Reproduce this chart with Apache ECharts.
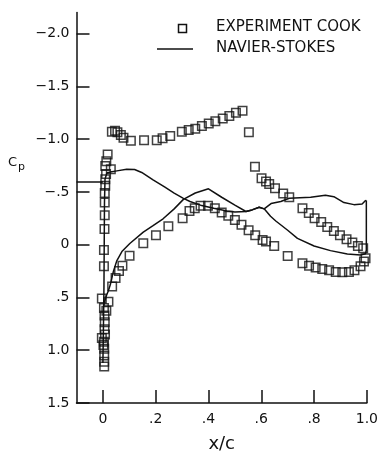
<!DOCTYPE html>
<html style="height: 100%">
<head>
    <meta charset="utf-8">
</head>
<body style="height: 100%; margin: 0; background: #fff">
<div id="container" style="width: 381px; height: 458px"></div>

<script type="text/javascript" src="https://cdn.jsdelivr.net/npm/echarts@6/dist/echarts.min.js"></script>
<script type="text/javascript">
    // experiment (Cook) - x/c and Cp, leading edge column, upper and lower surface
    const expLeX = [0.018, 0.013, 0.009, 0.030, 0.012, 0.009, 0.009, 0.007, 0.007, 0.007, 0.006, 0.004, 0.004, -0.004,
        0.004, 0.006, 0.007, 0.006, 0.008, -0.004, 0.004, 0.002, 0.005, 0.005, 0.005, 0.005];
    const expLeCp = [-0.855, -0.79, -0.745, -0.715, -0.67, -0.62, -0.56, -0.49, -0.40, -0.28, -0.15, 0.05, 0.205, 0.51,
        0.60, 0.67, 0.735, 0.80, 0.85, 0.885, 0.92, 0.95, 0.985, 1.05, 1.11, 1.155];
    const expUpX = [0.034, 0.046, 0.055, 0.068, 0.078, 0.106, 0.156, 0.204, 0.226, 0.255, 0.299, 0.325, 0.350, 0.375,
        0.401, 0.426, 0.454, 0.479, 0.504, 0.529, 0.553, 0.576, 0.601, 0.618, 0.630, 0.652, 0.683, 0.706, 0.756, 0.780,
        0.802, 0.827, 0.850, 0.875, 0.898, 0.923, 0.945, 0.966, 0.986];
    const expUpCp = [-1.07, -1.08, -1.065, -1.04, -1.015, -0.985, -0.99, -0.99, -1.01, -1.03, -1.07, -1.087, -1.10, -1.125,
        -1.15, -1.17, -1.196, -1.22, -1.25, -1.27, -1.065, -0.74, -0.63, -0.60, -0.575, -0.535, -0.486, -0.45, -0.345, -0.30,
        -0.25, -0.215, -0.168, -0.13, -0.09, -0.053, -0.02, 0.012, 0.034];
    const expLoX = [0.013, 0.021, 0.035, 0.048, 0.061, 0.074, 0.101, 0.153, 0.201, 0.248, 0.302, 0.328, 0.348, 0.370,
        0.398, 0.424, 0.450, 0.475, 0.500, 0.525, 0.552, 0.577, 0.605, 0.618, 0.649, 0.700, 0.756, 0.781, 0.806, 0.831,
        0.857, 0.882, 0.907, 0.932, 0.953, 0.976, 0.989, 0.995];
    const expLoCp = [0.625, 0.54, 0.395, 0.315, 0.248, 0.20, 0.105, -0.015, -0.09, -0.175, -0.25, -0.32, -0.345, -0.37,
        -0.37, -0.345, -0.305, -0.275, -0.235, -0.19, -0.137, -0.09, -0.044, -0.03, 0.012, 0.106, 0.175, 0.20, 0.215, 0.23,
        0.243, 0.258, 0.262, 0.258, 0.243, 0.205, 0.16, 0.128];

    // navier-stokes, two traces plus the short piece left of the nose
    const nsAX = [0.000, 0.002, 0.004, 0.005, 0.006, 0.008, 0.015, 0.028, 0.053, 0.090, 0.120, 0.147, 0.190, 0.235,
        0.270, 0.305, 0.330, 0.370, 0.420, 0.470, 0.500, 0.542, 0.565, 0.592, 0.611, 0.635, 0.655, 0.700, 0.737, 0.800,
        0.862, 0.926, 0.976, 0.995, 0.998, 0.998];
    const nsACp = [1.12, 0.80, 0.40, 0.00, -0.40, -0.62, -0.68, -0.69, -0.70, -0.715, -0.713, -0.685, -0.615, -0.545,
        -0.49, -0.44, -0.41, -0.375, -0.345, -0.32, -0.31, -0.315, -0.33, -0.355, -0.34, -0.27, -0.225, -0.137, -0.06, 0.012,
        0.056, 0.087, 0.097, 0.085, 0.05, -0.42];
    const nsBX = [0.006, 0.012, 0.020, 0.028, 0.040, 0.053, 0.072, 0.102, 0.153, 0.190, 0.228, 0.270, 0.305, 0.350,
        0.400, 0.450, 0.500, 0.542, 0.565, 0.592, 0.611, 0.637, 0.674, 0.706, 0.787, 0.843, 0.875, 0.913, 0.951, 0.982,
        0.994, 0.998];
    const nsBCp = [0.55, 0.49, 0.44, 0.38, 0.25, 0.15, 0.065, -0.012, -0.12, -0.18, -0.246, -0.34, -0.43, -0.49,
        -0.53, -0.45, -0.375, -0.315, -0.33, -0.355, -0.34, -0.39, -0.41, -0.44, -0.45, -0.47, -0.455, -0.40, -0.38, -0.386,
        -0.417, -0.42];
    const nsCX = [-0.1, 0.0];
    const nsCCp = [-0.595, -0.595];

    // axis ticks
    const xTicks = [0, 0.2, 0.4, 0.6, 0.8, 1.0];
    const xTickLabels = ['0', '.2', '.4', '.6', '.8', '1.0'];
    const yTicks = [-2.0, -1.5, -1.0, -0.5, 0, 0.5, 1.0, 1.5];
    const yTickLabels = ['\u22122.0', '\u22121.5', '\u22121.0', '\u2212.5', '0', '.5', '1.0', '1.5'];

    function pairs(xs, ys) {
        return xs.map(function (x, i) { return [x, ys[i]]; });
    }

    const ink = '#111';
    const font = 'DejaVu Sans';

    var dom = document.getElementById('container');
    var myChart = echarts.init(dom, null, {renderer: 'canvas'});
    var option;

    var lineStyle = {color: ink, width: 1.5};
    var lineSeries = function (data) {
        return {
            type: 'line',
            data: data,
            symbol: 'none',
            lineStyle: lineStyle,
            z: 2,
            animation: false
        };
    };

    option = {
        animation: false,
        grid: {left: 76.5, right: 13, top: 12.6, bottom: 49.5},
        xAxis: {
            type: 'value',
            min: -0.1,
            max: 1.0,
            name: 'x/c',
            nameLocation: 'middle',
            nameGap: 32,
            nameTextStyle: {fontFamily: font, fontSize: 18, color: ink},
            axisLine: {onZero: false, lineStyle: {color: ink, width: 1.5}},
            axisTick: {inside: true, length: 13, customValues: xTicks, lineStyle: {color: ink, width: 1.5}},
            axisLabel: {
                customValues: xTicks,
                margin: 9,
                fontFamily: font,
                fontSize: 14,
                color: ink,
                formatter: function (v) { return xTickLabels[xTicks.indexOf(+v.toFixed(1))]; }
            },
            splitLine: {show: false}
        },
        yAxis: {
            type: 'value',
            inverse: true,
            min: -2.2,
            max: 1.5,
            axisLine: {onZero: false, lineStyle: {color: ink, width: 1.5}},
            axisTick: {inside: true, length: 13, customValues: yTicks, lineStyle: {color: ink, width: 1.5}},
            axisLabel: {
                customValues: yTicks,
                margin: 7,
                fontFamily: font,
                fontSize: 14,
                color: ink,
                formatter: function (v) { return yTickLabels[yTicks.indexOf(+v.toFixed(1))]; }
            },
            splitLine: {show: false}
        },
        graphic: [
            {
                type: 'text', left: 8, top: 156,
                style: {
                    text: '{c|C}{p|p}',
                    rich: {
                        c: {fontFamily: font, fontSize: 13, fill: ink},
                        p: {fontFamily: font, fontSize: 11, fill: ink, padding: [10, 0, 0, 1]}
                    }
                }
            },
            // legend
            {
                type: 'rect', shape: {x: 178.5, y: 24.5, width: 8, height: 8},
                style: {fill: 'none', stroke: ink, lineWidth: 1.5}
            },
            {
                type: 'line', shape: {x1: 157, y1: 49, x2: 193, y2: 49},
                style: {stroke: ink, lineWidth: 1.5}
            },
            {
                type: 'text', left: 216, top: 20,
                style: {text: 'EXPERIMENT COOK', fontFamily: font, fontSize: 15, fill: ink}
            },
            {
                type: 'text', left: 216, top: 41,
                style: {text: 'NAVIER-STOKES', fontFamily: font, fontSize: 15, fill: ink}
            }
        ],
        series: [
            lineSeries(pairs(nsAX, nsACp)),
            lineSeries(pairs(nsBX, nsBCp)),
            lineSeries(pairs(nsCX, nsCCp)),
            {
                type: 'scatter',
                symbol: 'rect',
                symbolSize: 8.5,
                itemStyle: {color: 'rgba(0,0,0,0)', borderColor: ink, borderWidth: 1.5},
                z: 3,
                data: pairs(expLeX, expLeCp).concat(pairs(expUpX, expUpCp), pairs(expLoX, expLoCp))
            }
        ]
    };

    if (option && typeof option === 'object') {
        myChart.setOption(option);
    }
</script>
</body>
</html>
